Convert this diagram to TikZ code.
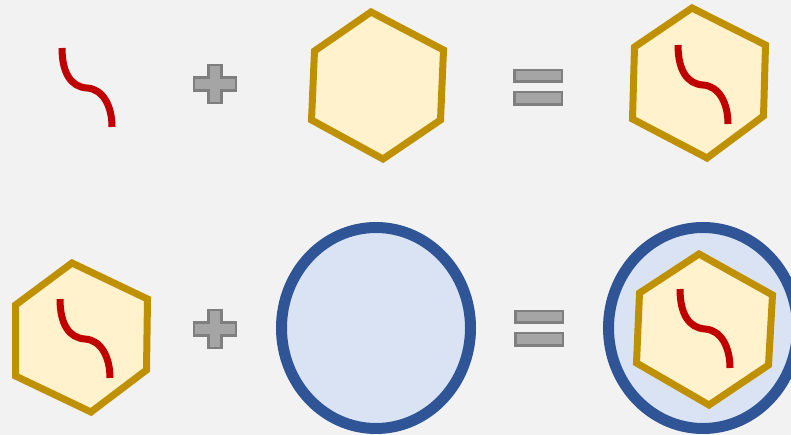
\documentclass[tikz,border=0pt]{standalone}
\definecolor{bgc}{HTML}{F2F2F2}
\definecolor{hexfill}{HTML}{FFF2CC}
\definecolor{hexline}{HTML}{BF9000}
\definecolor{redline}{HTML}{C00000}
\definecolor{cellfill}{HTML}{DAE3F3}
\definecolor{cellline}{HTML}{2F5597}
\definecolor{opfill}{HTML}{A5A5A5}
\definecolor{opline}{HTML}{7F7F7F}
\tikzset{
  hexshape/.style={fill=hexfill,draw=hexline,line width=7pt,line join=miter},
  squiggle/.style={draw=redline,line width=7pt,line cap=butt},
  cellshape/.style={fill=cellfill,draw=cellline,line width=11pt},
  opshape/.style={fill=opfill,draw=opline,line width=2.5pt,line join=miter},
  pic squig/.style={},
}
\newcommand{\squig}[2]{%
  \draw[squiggle,shift={(#1,#2)}] (0,0) .. controls (0,25) and (9,39) .. (25,40)
     .. controls (41,41) and (50,58) .. (50,79);}
\newcommand{\plusop}[2]{%
  \draw[opshape,shift={(#1,#2)}] (-6.3,-18.8) -- (6.3,-18.8) -- (6.3,-6.3) -- (20.8,-6.3)
     -- (20.8,6.3) -- (6.3,6.3) -- (6.3,18.8) -- (-6.3,18.8) -- (-6.3,6.3) -- (-20.8,6.3)
     -- (-20.8,-6.3) -- (-6.3,-6.3) -- cycle;}
\newcommand{\eqop}[2]{%
  \draw[opshape,shift={(#1,#2)}] (1.25,1.25) rectangle (48.75,12.75);
  \draw[opshape,shift={(#1,#2)}] (1.25,23.25) rectangle (48.75,35.75);}
\begin{document}
\begin{tikzpicture}[x=1pt,y=-1pt]
  \useasboundingbox (0,0) rectangle (791,435);
  \fill[bgc] (0,0) rectangle (791,435);
  \clip (0,0) rectangle (791,435);
  % row 1
  \squig{62}{48}
  \plusop{215}{84}
  \draw[hexshape] (371,12) -- (443.5,50) -- (440.5,120) -- (383,159) -- (311.5,120) -- (314.5,51) -- cycle;
  \eqop{513}{69}
  \draw[hexshape] (692,8) -- (765.5,45) -- (763.5,116) -- (707,158) -- (632.5,119) -- (634.5,47) -- cycle;
  \squig{678}{45}
  % row 2
  \draw[hexshape] (72,263) -- (147.5,299) -- (146.5,370) -- (91,412) -- (15.5,376) -- (15.5,305) -- cycle;
  \squig{60}{299}
  \plusop{215}{329}
  \draw[cellshape] (376,328) ellipse [x radius=94.5,y radius=100.5];
  \eqop{514}{309.5}
  \draw[cellshape] (703,328) ellipse [x radius=94.5,y radius=100.5];
  \draw[hexshape] (699,254) -- (772.5,295) -- (768.5,365) -- (709,405) -- (636.5,363) -- (639.5,293) -- cycle;
  \squig{680}{289}
\end{tikzpicture}
\end{document}
